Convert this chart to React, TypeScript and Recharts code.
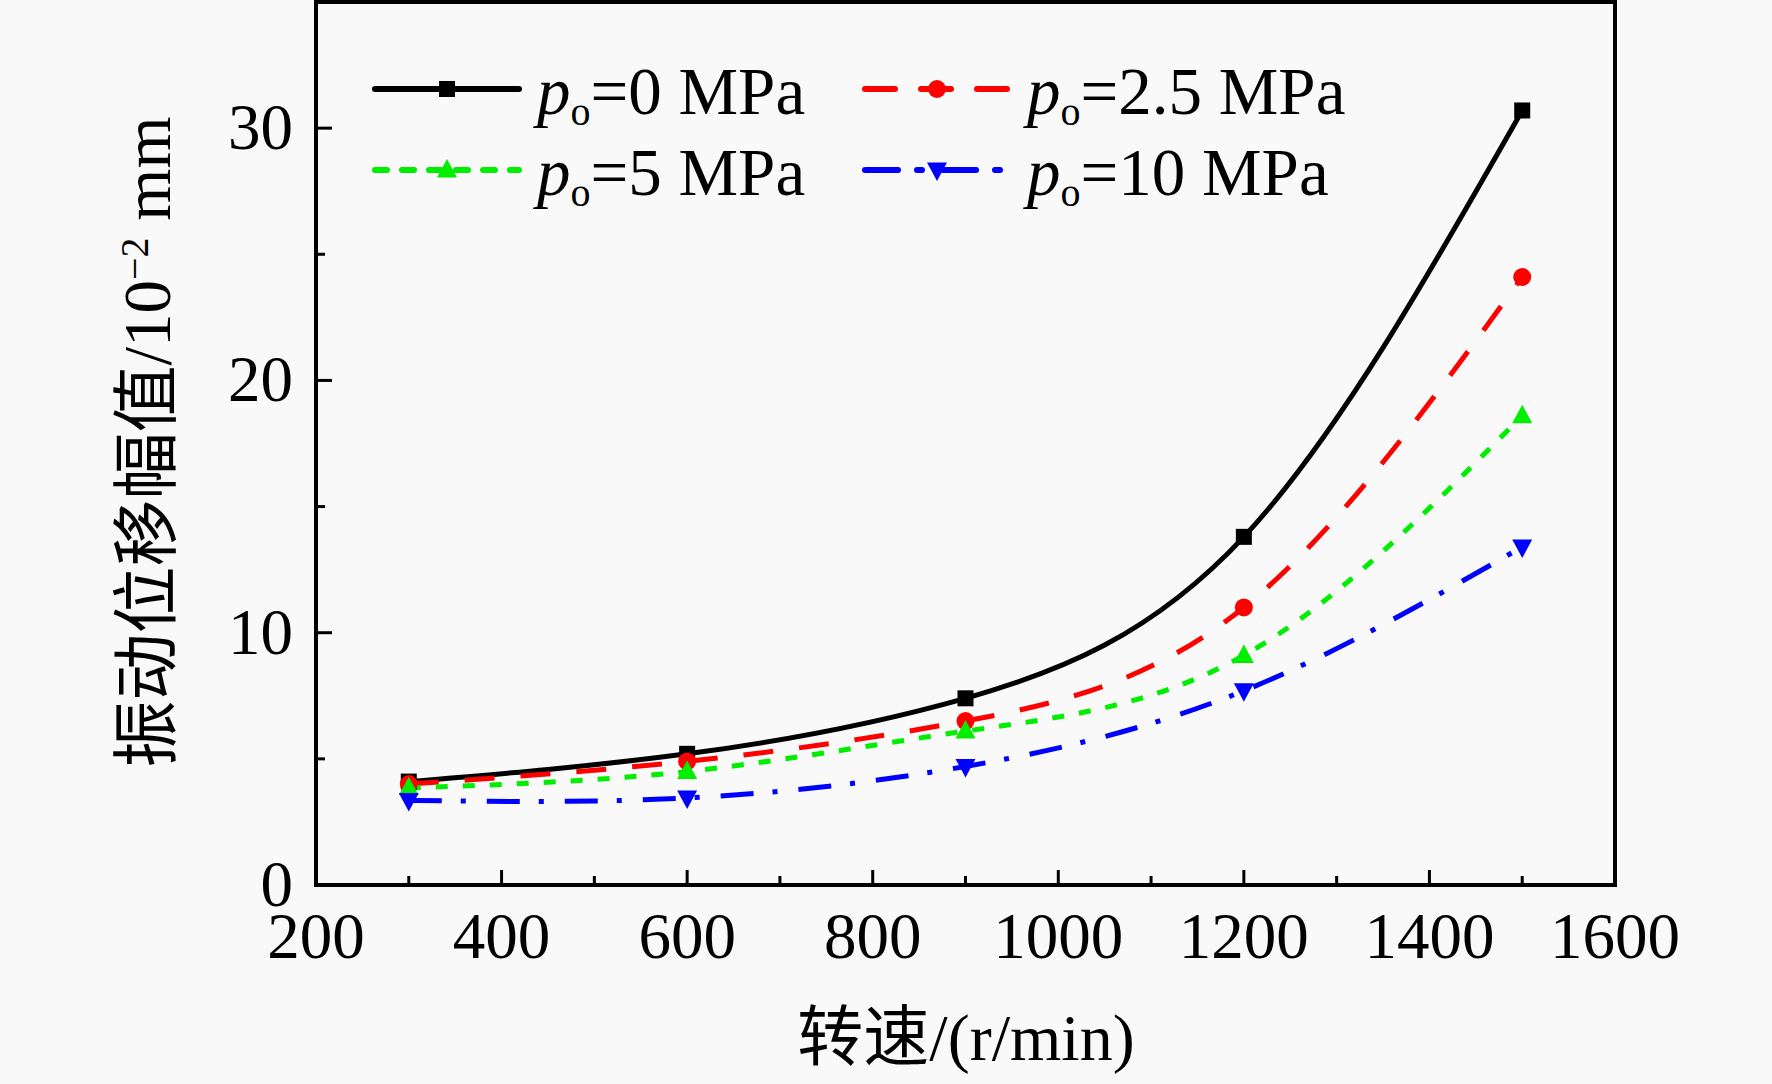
import { LineChart, Line, XAxis, YAxis, ReferenceLine, Legend } from "recharts";

// rotation speed (r/min)
const speeds = [300, 600, 900, 1200, 1500];
// vibration displacement amplitude (1e-2 mm) for each oil pressure
const amp0 = [4.1, 5.2, 7.4, 13.8, 30.7];
const amp25 = [4.0, 4.9, 6.5, 11.0, 24.1];
const amp5 = [3.85, 4.5, 6.1, 9.1, 18.6];
const amp10 = [3.35, 3.45, 4.7, 7.7, 13.4];

const xTicks = [200, 300, 400, 500, 600, 700, 800, 900, 1000, 1100, 1200, 1300, 1400, 1500, 1600];
const xMajor = [200, 400, 600, 800, 1000, 1200, 1400, 1600];
const yTicks = [0, 5, 10, 15, 20, 25, 30];
const yMajor = [0, 10, 20, 30];

const seriesKeys = ["p0", "p25", "p5", "p10"];
const seriesLabels = ["0", "2.5", "5", "10"];

const styles: Record<string, { color: string; dash?: string; marker: string }> = {
  p0: { color: "#000000", marker: "square" },
  p25: { color: "#ff0000", dash: "30 26", marker: "circle" },
  p5: { color: "#00ee00", dash: "12 15", marker: "up" },
  p10: { color: "#0000ff", dash: "33 19 5 21", marker: "down" },
};

const data = speeds.map((s, i) => ({
  speed: s,
  p0: amp0[i],
  p25: amp25[i],
  p5: amp5[i],
  p10: amp10[i],
}));

const SERIF = '"Liberation Serif", "Times New Roman", serif';
const LABEL_FONT = '"Liberation Serif", "Noto Sans CJK SC", serif';

function Marker({ cx, cy, kind, color }: { cx: number; cy: number; kind: string; color: string }) {
  if (kind === "square") return <rect x={cx - 8} y={cy - 8} width={16} height={16} fill={color} />;
  if (kind === "circle") return <circle cx={cx} cy={cy} r={9} fill={color} />;
  if (kind === "up")
    return <polygon points={`${cx},${cy - 11} ${cx - 10},${cy + 7.5} ${cx + 10},${cy + 7.5}`} fill={color} />;
  return <polygon points={`${cx},${cy + 11} ${cx - 10},${cy - 7.5} ${cx + 10},${cy - 7.5}`} fill={color} />;
}

const makeDot = (key: string) => (props: any) => {
  const st = styles[key];
  return (
    <g key={`${key}-${props.index}`}>
      <Marker cx={props.cx} cy={props.cy} kind={st.marker} color={st.color} />
    </g>
  );
};

const XTick = (props: any) => {
  const { x, y, payload } = props;
  const major = xMajor.includes(payload.value);
  return (
    <g>
      <line x1={x} x2={x} y1={y} y2={y - (major ? 15 : 9)} stroke="#000" strokeWidth={3} />
      {major && (
        <text x={x} y={y + 73} textAnchor="middle" fontSize={65} fontFamily={SERIF} fill="#000">
          {payload.value}
        </text>
      )}
    </g>
  );
};

const YTick = (props: any) => {
  const { x, y, payload } = props;
  const major = yMajor.includes(payload.value);
  return (
    <g>
      <line x1={x} x2={x + (major ? 16 : 9)} y1={y} y2={y} stroke="#000" strokeWidth={3} />
      {major && (
        <text x={x - 23} y={y + 21} textAnchor="end" fontSize={65} fontFamily={SERIF} fill="#000">
          {payload.value}
        </text>
      )}
    </g>
  );
};

const YLabel = () => (
  <text transform="translate(170,442) rotate(-90)" textAnchor="middle" fontSize={67} fontFamily={LABEL_FONT} fill="#000">
    振动位移幅值/10
    <tspan fontSize={40} dy={-22}>
      −2
    </tspan>
    <tspan fontSize={67} dy={22}>
      {" "}mm
    </tspan>
  </text>
);

const XLabel = () => (
  <text x={966} y={1060} textAnchor="middle" fontSize={66} fontFamily={LABEL_FONT} fill="#000">
    转速/(r/min)
  </text>
);

const legendCols = [
  { sample: 372, text: 537 },
  { sample: 862, text: 1027 },
];
const legendRows = [58, 139];

const LegendBox = () => (
  <div style={{ position: "relative", width: 1772, height: 240, fontFamily: SERIF, fontSize: 67, color: "#000" }}>
    {seriesKeys.map((k, i) => {
      const col = legendCols[i % 2];
      const top = legendRows[Math.floor(i / 2)];
      const st = styles[k];
      return (
        <div key={k}>
          <svg
            width={150}
            height={30}
            style={{ position: "absolute", left: col.sample, top: top + 16 }}
          >
            <line x1={3} x2={147} y1={15} y2={15} stroke={st.color} strokeWidth={6} strokeDasharray={st.dash} strokeLinecap="round" />
            <Marker cx={75} cy={15} kind={st.marker} color={st.color} />
          </svg>
          <div style={{ position: "absolute", left: col.text, top, lineHeight: "67px", whiteSpace: "nowrap" }}>
            <span style={{ fontStyle: "italic" }}>p</span>
            <span style={{ fontSize: 40, position: "relative", top: 11 }}>o</span>
            <span>={seriesLabels[i]} MPa</span>
          </div>
        </div>
      );
    })}
  </div>
);

export default function App() {
  return (
    <div style={{ position: "absolute", left: 0, top: 0, width: 1772, height: 1084, background: "#f9f9f9" }}>
      <LineChart width={1772} height={1084} data={data} margin={{ top: 2, right: 157, left: 216, bottom: 139 }}>
        <XAxis
          dataKey="speed"
          type="number"
          domain={[200, 1600]}
          ticks={xTicks}
          interval={0}
          height={60}
          tickSize={0}
          tickMargin={0}
          tick={<XTick />}
          axisLine={{ stroke: "#000", strokeWidth: 4, strokeLinecap: "square" }}
          tickLine={false}
          label={XLabel}
        />
        <YAxis
          type="number"
          domain={[0, 35]}
          ticks={yTicks}
          interval={0}
          width={100}
          tickSize={0}
          tickMargin={0}
          tick={<YTick />}
          axisLine={{ stroke: "#000", strokeWidth: 4, strokeLinecap: "square" }}
          tickLine={false}
          label={YLabel}
        />
        <ReferenceLine y={35} stroke="#000" strokeWidth={4} strokeLinecap="square" />
        <ReferenceLine x={1600} stroke="#000" strokeWidth={4} strokeLinecap="square" />
        {seriesKeys.map((k) => (
          <Line
            key={k}
            type="natural"
            dataKey={k}
            stroke={styles[k].color}
            strokeWidth={5}
            strokeDasharray={styles[k].dash}
            dot={makeDot(k)}
            activeDot={false}
            isAnimationActive={false}
          />
        ))}
        <Legend
          layout="horizontal"
          verticalAlign="middle"
          align="center"
          wrapperStyle={{ left: 0, top: 0, width: 1772, height: 240 }}
          content={LegendBox}
        />
      </LineChart>
    </div>
  );
}
